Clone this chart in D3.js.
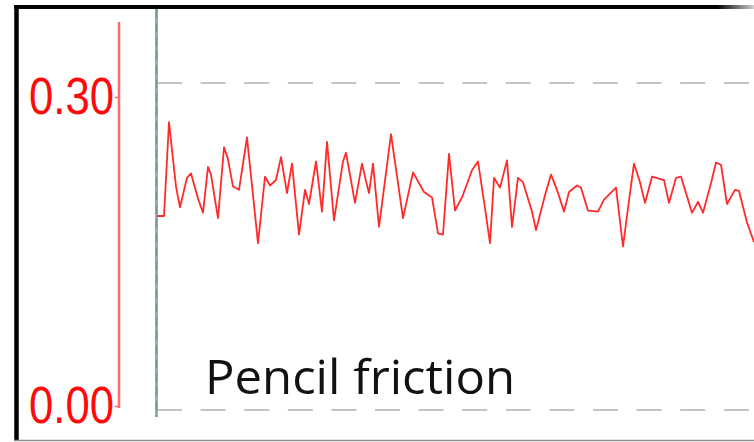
<!DOCTYPE html>
<html>
<head>
<meta charset="utf-8">
<script src="https://cdn.jsdelivr.net/npm/d3@7"></script>
<style>
  html, body { margin: 0; padding: 0; background: #fff; }
  svg { display: block; }
</style>
</head>
<body>
<svg id="chart" width="754" height="442"></svg>
<script>
// ---- data ----
const sampleIndex = [0,7,12,19,23,30,34,41,46,51,54,61,67,71,76,82,90,101,108,113,119,124,130,135,142,148,152,159,165,170,177,186,189,198,205,209,212,216,222,234,246,256,267,275,281,286,292,298,305,315,321,328,333,337,343,350,355,361,366,375,379,388,394,400,407,412,420,424,431,441,447,459,466,472,477,483,488,495,507,512,519,524,531,535,541,546,554,559,564,570,578,582,590,597];
const friction = [0.178,0.178,0.264,0.205,0.186,0.213,0.217,0.194,0.181,0.223,0.216,0.176,0.241,0.230,0.205,0.202,0.250,0.153,0.214,0.206,0.211,0.232,0.199,0.226,0.161,0.202,0.189,0.228,0.182,0.246,0.174,0.228,0.236,0.190,0.226,0.210,0.199,0.226,0.168,0.253,0.176,0.218,0.200,0.195,0.162,0.161,0.235,0.183,0.195,0.220,0.228,0.185,0.153,0.213,0.204,0.229,0.168,0.213,0.209,0.182,0.165,0.197,0.216,0.202,0.182,0.200,0.206,0.204,0.183,0.182,0.193,0.204,0.150,0.192,0.226,0.209,0.190,0.214,0.211,0.190,0.213,0.214,0.193,0.181,0.191,0.181,0.208,0.227,0.225,0.189,0.202,0.201,0.172,0.154];
const tickValues = [0, 0.30];
const gridValues = [0, 0.30];
const title = "Pencil friction";

// ---- drawing ----
const svg = d3.select("#chart");

const x = d3.scaleLinear().domain([0, 597]).range([157, 754]);
const yPlot = d3.scaleLinear().domain([0, 0.30]).range([410, 83]);
const yAxisScale = d3.scaleLinear().domain([0, 0.30]).range([406, 97]);

// frame
const defs = svg.append("defs");
const grad = defs.append("linearGradient").attr("id", "topFade")
  .attr("gradientUnits", "userSpaceOnUse")
  .attr("x1", 14).attr("x2", 754).attr("y1", 0).attr("y2", 0);
grad.append("stop").attr("offset", "0.95").attr("stop-color", "#000");
grad.append("stop").attr("offset", "1").attr("stop-color", "#d0d0d0");

svg.append("line").attr("x1", 14).attr("x2", 754).attr("y1", 7).attr("y2", 7)
  .attr("stroke", "url(#topFade)").attr("stroke-width", 4);
svg.append("line").attr("x1", 16.5).attr("x2", 16.5).attr("y1", 5).attr("y2", 441)
  .attr("stroke", "#000").attr("stroke-width", 4.5);
svg.append("line").attr("x1", 14).attr("x2", 754).attr("y1", 440.5).attr("y2", 440.5)
  .attr("stroke", "#8a8a8a").attr("stroke-width", 1.5);

// gridlines
svg.append("g").selectAll("line").data(gridValues).join("line")
  .attr("x1", 157).attr("x2", 754)
  .attr("y1", d => yPlot(d)).attr("y2", d => yPlot(d))
  .attr("stroke", "#c4c4c4").attr("stroke-width", 2)
  .attr("stroke-dasharray", "25,18.6");

// teal axis line
svg.append("line").attr("x1", 156.5).attr("x2", 156.5).attr("y1", 9).attr("y2", 417)
  .attr("stroke", "#8db3ae").attr("stroke-width", 3);
svg.append("line").attr("x1", 156.5).attr("x2", 156.5).attr("y1", 9).attr("y2", 417)
  .attr("stroke", "#6f9893").attr("stroke-width", 1.5).attr("stroke-dasharray", "9,5");

// red axis
const axisG = svg.append("g").attr("transform", "translate(119,0)")
  .call(d3.axisLeft(yAxisScale).tickValues(tickValues).tickFormat(d3.format(".2f")).tickSize(4).tickPadding(5));
axisG.select(".domain").remove();
axisG.selectAll(".tick line").attr("stroke", "#ff6060").attr("stroke-width", 1.5);
axisG.selectAll(".tick text")
  .attr("x", 0)
  .attr("transform", "translate(-5,0) scale(0.84,1)")
  .attr("fill", "#ff0a0a")
  .style("font-family", "'Liberation Sans', Arial, sans-serif")
  .style("font-size", "52px");
svg.append("line").attr("x1", 119).attr("x2", 119).attr("y1", 22).attr("y2", 408)
  .attr("stroke", "#ff6a6a").attr("stroke-width", 2.5);

// data line
const line = d3.line().x((d, i) => x(sampleIndex[i])).y(d => yPlot(d));
svg.append("path").datum(friction)
  .attr("d", line)
  .attr("fill", "none")
  .attr("stroke", "#ff2a2a")
  .attr("stroke-width", 1.8)
  .attr("stroke-linejoin", "round");

// label
svg.append("text").attr("x", 205).attr("y", 394)
  .attr("fill", "#111")
  .attr("textLength", 310)
  .attr("lengthAdjust", "spacingAndGlyphs")
  .style("font-family", "'Open Sans', sans-serif")
  .style("font-size", "48px")
  .text(title);
</script>
</body>
</html>
